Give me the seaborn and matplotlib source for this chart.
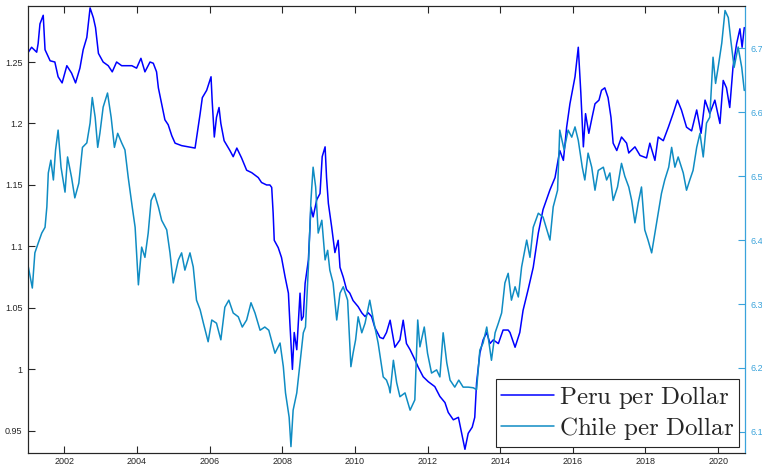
import pandas as pd
import matplotlib
matplotlib.use("Agg")
import matplotlib.pyplot as plt
from matplotlib.ticker import FuncFormatter
import seaborn as sns

# Peru per dollar (left axis)
peru_year = [2001.01, 2001.10, 2001.24, 2001.28, 2001.33, 2001.42, 2001.47, 2001.61, 2001.74, 2001.83,
             2001.94, 2002.07, 2002.20, 2002.31, 2002.43, 2002.52, 2002.62, 2002.71, 2002.80, 2002.86,
             2002.94, 2003.07, 2003.21, 2003.32, 2003.44, 2003.58, 2003.86, 2003.99, 2004.11, 2004.22,
             2004.36, 2004.45, 2004.54, 2004.59, 2004.68, 2004.77, 2004.86, 2004.96, 2005.05, 2005.23,
             2005.41, 2005.60, 2005.66, 2005.74, 2005.80, 2005.92, 2006.04, 2006.07, 2006.13, 2006.19,
             2006.26, 2006.31, 2006.40, 2006.56, 2006.65, 2006.75, 2006.88, 2007.02, 2007.16, 2007.34,
             2007.43, 2007.57, 2007.66, 2007.71, 2007.75, 2007.78, 2007.89, 2007.98, 2008.08, 2008.17,
             2008.21, 2008.28, 2008.33, 2008.40, 2008.49, 2008.53, 2008.58, 2008.63, 2008.72, 2008.79,
             2008.85, 2008.95, 2009.04, 2009.10, 2009.18, 2009.22, 2009.27, 2009.36, 2009.45, 2009.54,
             2009.59, 2009.68, 2009.77, 2009.86, 2009.95, 2010.09, 2010.19, 2010.28, 2010.37, 2010.46,
             2010.55, 2010.69, 2010.78, 2010.87, 2010.97, 2011.10, 2011.24, 2011.33, 2011.42, 2011.52,
             2011.65, 2011.74, 2011.88, 2012.02, 2012.20, 2012.34, 2012.48, 2012.57, 2012.71, 2012.85,
             2012.94, 2013.03, 2013.12, 2013.23, 2013.30, 2013.35, 2013.44, 2013.53, 2013.63, 2013.72,
             2013.81, 2013.95, 2014.08, 2014.22, 2014.27, 2014.41, 2014.54, 2014.63, 2014.77, 2014.91,
             2015.05, 2015.18, 2015.37, 2015.51, 2015.64, 2015.74, 2015.83, 2015.92, 2016.06, 2016.15,
             2016.22, 2016.29, 2016.35, 2016.44, 2016.53, 2016.61, 2016.72, 2016.79, 2016.88, 2016.97,
             2017.05, 2017.11, 2017.21, 2017.34, 2017.48, 2017.54, 2017.57, 2017.71, 2017.85, 2018.03,
             2018.12, 2018.26, 2018.35, 2018.49, 2018.63, 2018.76, 2018.88, 2018.99, 2019.13, 2019.27,
             2019.41, 2019.53, 2019.64, 2019.77, 2019.91, 2020.05, 2020.14, 2020.23, 2020.32, 2020.41,
             2020.51, 2020.60, 2020.66, 2020.72]
peru_value = [1.258, 1.262, 1.258, 1.265, 1.281, 1.288, 1.260, 1.251, 1.250, 1.238,
              1.233, 1.247, 1.241, 1.233, 1.245, 1.260, 1.270, 1.294, 1.286, 1.278,
              1.257, 1.250, 1.247, 1.242, 1.250, 1.247, 1.247, 1.245, 1.253, 1.242,
              1.250, 1.249, 1.242, 1.229, 1.216, 1.203, 1.199, 1.190, 1.184, 1.182,
              1.181, 1.180, 1.192, 1.208, 1.221, 1.227, 1.238, 1.219, 1.189, 1.205,
              1.213, 1.200, 1.186, 1.178, 1.173, 1.180, 1.172, 1.162, 1.160, 1.156,
              1.152, 1.150, 1.150, 1.148, 1.127, 1.105, 1.099, 1.091, 1.075, 1.062,
              1.038, 1.000, 1.030, 1.016, 1.062, 1.040, 1.043, 1.070, 1.089, 1.132,
              1.124, 1.138, 1.143, 1.173, 1.181, 1.156, 1.135, 1.116, 1.095, 1.105,
              1.083, 1.075, 1.065, 1.062, 1.056, 1.051, 1.046, 1.043, 1.046, 1.043,
              1.034, 1.026, 1.025, 1.030, 1.040, 1.018, 1.024, 1.040, 1.021, 1.016,
              1.008, 1.002, 0.994, 0.990, 0.986, 0.978, 0.973, 0.965, 0.959, 0.961,
              0.948, 0.935, 0.948, 0.953, 0.961, 0.989, 1.013, 1.024, 1.030, 1.021,
              1.024, 1.021, 1.032, 1.032, 1.030, 1.018, 1.030, 1.048, 1.065, 1.083,
              1.111, 1.130, 1.146, 1.156, 1.178, 1.170, 1.197, 1.216, 1.238, 1.262,
              1.225, 1.181, 1.208, 1.192, 1.205, 1.216, 1.219, 1.227, 1.229, 1.221,
              1.205, 1.184, 1.178, 1.189, 1.184, 1.176, 1.177, 1.181, 1.174, 1.172,
              1.184, 1.170, 1.189, 1.186, 1.197, 1.208, 1.219, 1.211, 1.197, 1.194,
              1.211, 1.192, 1.219, 1.208, 1.219, 1.200, 1.235, 1.229, 1.213, 1.246,
              1.265, 1.277, 1.262, 1.278]

# Chile per dollar (right axis)
chile_year = [2001.01, 2001.12, 2001.19, 2001.28, 2001.38, 2001.47, 2001.52, 2001.56, 2001.63, 2001.70,
              2001.76, 2001.83, 2001.91, 2002.02, 2002.09, 2002.20, 2002.29, 2002.40, 2002.50, 2002.62,
              2002.71, 2002.77, 2002.85, 2002.92, 2002.98, 2003.07, 2003.19, 2003.29, 2003.38, 2003.47,
              2003.58, 2003.67, 2003.76, 2003.87, 2003.95, 2004.04, 2004.13, 2004.22, 2004.31, 2004.39,
              2004.48, 2004.59, 2004.68, 2004.82, 2004.91, 2005.00, 2005.14, 2005.23, 2005.32, 2005.46,
              2005.55, 2005.64, 2005.74, 2005.83, 2005.96, 2006.06, 2006.19, 2006.31, 2006.42, 2006.53,
              2006.65, 2006.79, 2006.90, 2007.02, 2007.14, 2007.25, 2007.39, 2007.52, 2007.63, 2007.80,
              2007.94, 2008.03, 2008.09, 2008.19, 2008.24, 2008.30, 2008.40, 2008.49, 2008.58, 2008.64,
              2008.72, 2008.79, 2008.85, 2008.92, 2008.99, 2009.09, 2009.18, 2009.25, 2009.31, 2009.40,
              2009.50, 2009.59, 2009.68, 2009.80, 2009.89, 2009.95, 2010.02, 2010.09, 2010.19, 2010.28,
              2010.41, 2010.51, 2010.64, 2010.78, 2010.87, 2010.94, 2010.97, 2011.06, 2011.15, 2011.24,
              2011.38, 2011.52, 2011.65, 2011.73, 2011.79, 2011.91, 2012.00, 2012.11, 2012.25, 2012.34,
              2012.43, 2012.53, 2012.62, 2012.75, 2012.86, 2012.98, 2013.12, 2013.26, 2013.35, 2013.44,
              2013.53, 2013.63, 2013.76, 2013.86, 2013.95, 2014.04, 2014.13, 2014.22, 2014.31, 2014.41,
              2014.50, 2014.59, 2014.73, 2014.82, 2014.91, 2015.05, 2015.18, 2015.31, 2015.37, 2015.46,
              2015.58, 2015.64, 2015.76, 2015.87, 2015.97, 2016.06, 2016.15, 2016.26, 2016.33, 2016.42,
              2016.52, 2016.61, 2016.70, 2016.84, 2016.93, 2017.02, 2017.11, 2017.23, 2017.34, 2017.43,
              2017.54, 2017.62, 2017.71, 2017.80, 2017.89, 2017.98, 2018.07, 2018.17, 2018.26, 2018.35,
              2018.44, 2018.53, 2018.64, 2018.72, 2018.81, 2018.90, 2019.04, 2019.13, 2019.22, 2019.31,
              2019.41, 2019.50, 2019.59, 2019.68, 2019.77, 2019.86, 2019.93, 2020.00, 2020.10, 2020.19,
              2020.28, 2020.35, 2020.44, 2020.55, 2020.65, 2020.72]
chile_value = [6.358, 6.325, 6.380, 6.395, 6.411, 6.420, 6.452, 6.505, 6.525, 6.494,
               6.541, 6.572, 6.514, 6.475, 6.530, 6.498, 6.466, 6.489, 6.545, 6.552,
               6.583, 6.623, 6.592, 6.545, 6.567, 6.608, 6.630, 6.592, 6.545, 6.567,
               6.552, 6.541, 6.498, 6.452, 6.420, 6.330, 6.389, 6.373, 6.411, 6.462,
               6.473, 6.452, 6.431, 6.416, 6.380, 6.333, 6.369, 6.380, 6.353, 6.380,
               6.358, 6.306, 6.291, 6.270, 6.241, 6.275, 6.270, 6.244, 6.295, 6.306,
               6.286, 6.280, 6.264, 6.275, 6.302, 6.286, 6.259, 6.264, 6.259, 6.223,
               6.239, 6.202, 6.161, 6.123, 6.077, 6.134, 6.161, 6.208, 6.255, 6.264,
               6.358, 6.462, 6.514, 6.483, 6.411, 6.431, 6.369, 6.384, 6.353, 6.333,
               6.275, 6.317, 6.327, 6.306, 6.202, 6.223, 6.244, 6.280, 6.255, 6.270,
               6.306, 6.275, 6.239, 6.186, 6.181, 6.170, 6.161, 6.212, 6.177, 6.155,
               6.161, 6.134, 6.150, 6.275, 6.233, 6.264, 6.223, 6.192, 6.197, 6.186,
               6.255, 6.208, 6.181, 6.170, 6.181, 6.170, 6.170, 6.169, 6.166, 6.228,
               6.239, 6.264, 6.212, 6.255, 6.270, 6.286, 6.333, 6.348, 6.306, 6.327,
               6.311, 6.358, 6.400, 6.373, 6.420, 6.442, 6.436, 6.411, 6.400, 6.452,
               6.478, 6.572, 6.541, 6.572, 6.561, 6.577, 6.556, 6.514, 6.494, 6.536,
               6.514, 6.478, 6.509, 6.514, 6.494, 6.505, 6.462, 6.483, 6.520, 6.500,
               6.483, 6.462, 6.427, 6.458, 6.483, 6.416, 6.400, 6.380, 6.411, 6.442,
               6.473, 6.494, 6.514, 6.545, 6.514, 6.530, 6.505, 6.478, 6.494, 6.509,
               6.545, 6.567, 6.530, 6.583, 6.592, 6.686, 6.645, 6.670, 6.708, 6.759,
               6.748, 6.712, 6.670, 6.702, 6.670, 6.634]

x_ticks = [2002, 2004, 2006, 2008, 2010, 2012, 2014, 2016, 2018, 2020]
left_ticks = [0.95, 1.0, 1.05, 1.1, 1.15, 1.2, 1.25]
right_ticks = [6.1, 6.2, 6.3, 6.4, 6.5, 6.6, 6.7]

peru = pd.DataFrame({"year": peru_year, "value": peru_value})
chile = pd.DataFrame({"year": chile_year, "value": chile_value})

sns.set_style("ticks")
plt.rcParams["font.family"] = ["Liberation Sans", "DejaVu Sans"]
plt.rcParams["mathtext.fontset"] = "cm"

peru_color = "#0000ff"
chile_color = "#0f8cc3"
right_color = "#3aa3db"
dark = "#262626"

fig = plt.figure(figsize=(7.62, 4.67), dpi=100)
ax = fig.add_axes([0.0367, 0.030, 0.941, 0.957])
ax2 = ax.twinx()

sns.lineplot(data=peru, x="year", y="value", ax=ax, color=peru_color, linewidth=1.1,
             label=r"$\mathrm{Peru\ per\ Dollar}$", legend=False)
sns.lineplot(data=chile, x="year", y="value", ax=ax2, color=chile_color, linewidth=1.1,
             label=r"$\mathrm{Chile\ per\ Dollar}$", legend=False)

ax.set_xlim(2001.0, 2020.74)
ax.set_ylim(0.932, 1.2955)
ax2.set_ylim(6.067, 6.766)
ax.set_xticks(x_ticks)
ax.set_yticks(left_ticks)
ax2.set_yticks(right_ticks)
fmt = FuncFormatter(lambda v, p: "{:g}".format(round(v, 2)))
ax.yaxis.set_major_formatter(fmt)
ax2.yaxis.set_major_formatter(fmt)
ax.set_xlabel("")
ax.set_ylabel("")
ax2.set_ylabel("")

ax.tick_params(axis="both", direction="in", length=5, width=0.8, colors=dark,
               labelsize=6.5, pad=4, top=True)
ax.tick_params(axis="x", pad=3)
ax2.tick_params(axis="y", direction="in", length=5, width=0.8, colors=right_color,
                labelsize=6.5, pad=4)

for name in ["left", "bottom", "top"]:
    ax.spines[name].set_color(dark)
    ax.spines[name].set_linewidth(0.8)
    ax2.spines[name].set_color(dark)
    ax2.spines[name].set_linewidth(0.8)
ax2.spines["right"].set_color(right_color)
ax2.spines["right"].set_linewidth(0.9)
ax.spines["right"].set_visible(False)

handles = ax.get_lines()[:1] + ax2.get_lines()[:1]
leg = ax2.legend(handles=handles, labels=[h.get_label() for h in handles],
                 loc="lower right", fontsize=18, frameon=True, fancybox=False,
                 framealpha=1, edgecolor=dark, handlelength=2.1, handletextpad=0.2,
                 borderpad=0.2, labelspacing=0.15, borderaxespad=0.25)
leg.get_frame().set_linewidth(0.8)

fig.savefig("out.png", dpi=100)
